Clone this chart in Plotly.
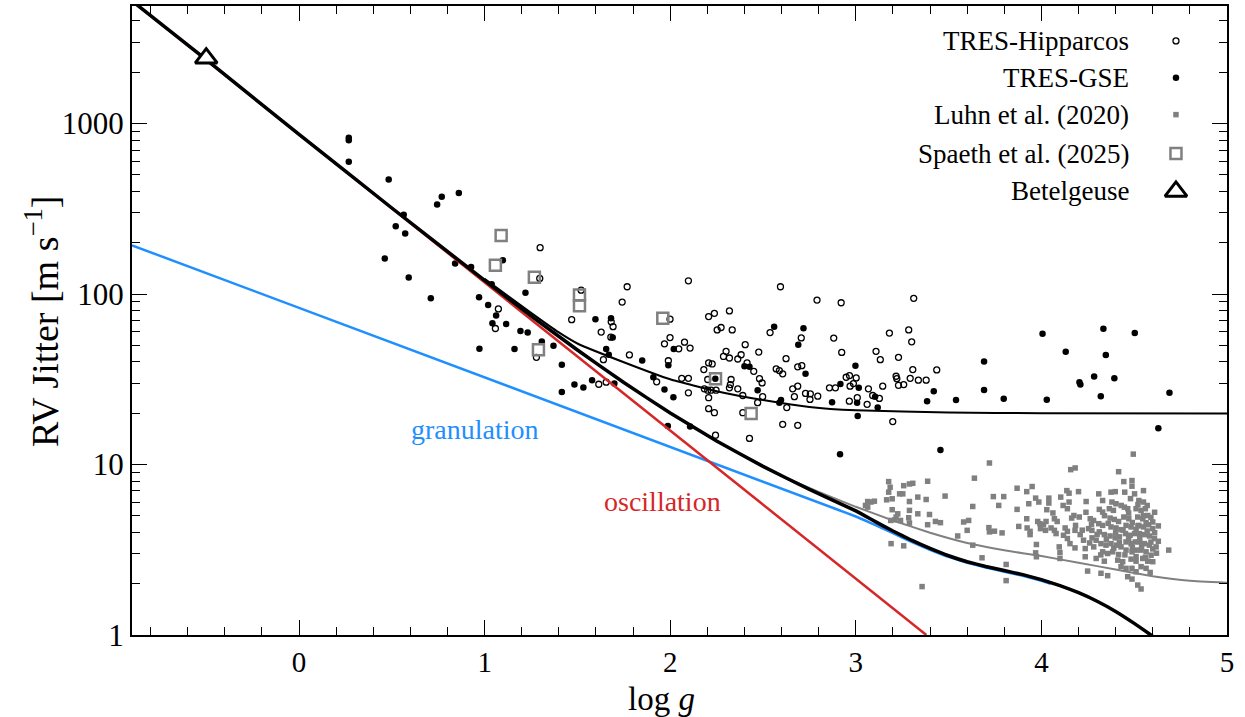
import numpy as np
import plotly.graph_objects as go

# ---------------- data (log g, log10 of RV jitter in m/s) ----------------
# TRES-Hipparcos stars
hip_logg = [1.074, 1.058, 1.299, 1.279, 1.520, 1.469, 1.615, 1.655, 1.628, 1.682,
            1.692, 1.680, 1.741, 1.768, 1.640, 1.780, 1.927, 2.098, 1.969, 1.999,
            2.077, 2.046, 2.107, 1.990, 2.062, 2.098, 2.098, 2.207, 2.238, 2.319,
            2.253, 2.274, 2.334, 2.181, 2.207, 2.226, 2.301, 2.287, 2.319, 2.364,
            2.404, 2.382, 2.414, 2.477, 2.450, 2.481, 2.495, 2.498, 2.391, 2.471,
            2.184, 2.202, 2.220, 2.247, 2.207, 2.207, 2.238, 2.202, 2.328, 2.324,
            2.319, 2.364, 2.391, 2.427, 2.244, 2.594, 2.571, 2.588, 2.606, 2.624,
            2.660, 2.669, 2.606, 2.687, 2.687, 2.538, 2.791, 2.921, 3.312, 2.881,
            2.924, 3.181, 3.285, 3.301, 3.109, 3.132, 3.230, 3.307, 3.436, 3.217,
            3.221, 3.230, 3.258, 3.293, 3.337, 3.379, 3.145, 3.068, 3.091, 3.127,
            3.061, 3.199, 2.948, 2.966, 3.002, 2.969, 2.987, 2.965, 3.008, 2.858,
            2.890, 2.687, 2.709, 2.755, 2.795, 2.706, 2.729, 2.753, 2.628, 1.999,
            1.297]
hip_logjit = [1.913, 1.798, 2.272, 1.629, 2.023, 1.850, 1.471, 1.483, 1.777, 1.837,
              1.809, 1.747, 1.953, 2.043, 1.615, 1.643, 1.485, 2.078, 1.708, 1.745,
              1.718, 1.679, 1.683, 1.609, 1.506, 1.506, 1.421, 1.868, 1.887, 1.901,
              1.790, 1.804, 1.790, 1.557, 1.596, 1.590, 1.664, 1.634, 1.625, 1.619,
              1.703, 1.644, 1.596, 1.660, 1.547, 1.504, 1.479, 1.398, 1.405, 1.363,
              1.444, 1.436, 1.436, 1.436, 1.392, 1.328, 1.304, 1.499, 1.499, 1.469,
              1.450, 1.444, 1.304, 1.153, 1.172, 2.043, 1.561, 1.551, 1.532, 1.621,
              1.444, 1.398, 1.236, 1.230, 1.573, 1.774, 1.965, 1.949, 1.975, 1.742,
              1.658, 1.771, 1.790, 1.720, 1.664, 1.615, 1.629, 1.557, 1.555, 1.518,
              1.504, 1.465, 1.469, 1.506, 1.495, 1.495, 1.460, 1.444, 1.405, 1.388,
              1.353, 1.252, 1.512, 1.522, 1.508, 1.460, 1.475, 1.372, 1.392, 1.450,
              1.450, 1.460, 1.580, 1.415, 1.401, 1.743, 1.417, 1.382, 1.334, 1.853,
              2.092]

# TRES-GSE stars
gse_logg = [0.268, 0.268, 0.268, 0.483, 0.769, 0.744, 0.861, 0.564, 0.521, 0.572,
            0.462, 0.591, 0.710, 0.841, 0.927, 1.098, 1.038, 0.970, 1.019, 1.062,
            1.042, 1.116, 0.972, 1.161, 1.193, 1.232, 1.220, 1.308, 1.371, 1.416,
            1.416, 1.484, 1.532, 1.579, 1.597, 1.681, 1.690, 1.655, 1.669, 1.699,
            1.849, 1.909, 1.969, 2.017, 1.987, 2.107, 2.243, 2.560, 2.471, 2.597,
            2.400, 2.427, 2.690, 2.019, 1.990, 2.718, 2.729, 2.588, 2.872, 2.917,
            2.998, 3.016, 3.007, 3.010, 3.118, 3.104, 2.915, 3.384, 3.420, 3.540,
            3.456, 3.691, 3.691, 3.797, 4.006, 4.029, 4.131, 4.205, 4.210, 4.284,
            4.320, 4.334, 4.347, 4.393, 4.503, 4.690, 4.630]
gse_logjit = [2.917, 2.902, 2.776, 2.672, 2.571, 2.525, 2.593, 2.465, 2.398, 2.356,
              2.208, 2.097, 1.975, 2.179, 2.159, 2.198, 2.057, 1.981, 1.936, 1.874,
              1.829, 1.825, 1.679, 1.678, 1.784, 1.774, 2.008, 1.722, 1.697, 1.586,
              1.425, 1.469, 1.452, 1.495, 1.852, 1.858, 1.745, 1.678, 1.644, 1.475,
              1.611, 1.512, 1.440, 1.395, 1.226, 1.223, 1.503, 1.809, 1.436, 1.378,
              1.576, 1.573, 1.703, 1.678, 1.582, 1.800, 1.532, 1.363, 1.366, 1.473,
              1.580, 1.450, 1.363, 1.285, 1.334, 1.398, 1.061, 1.372, 1.430, 1.378,
              1.086, 1.605, 1.438, 1.386, 1.767, 1.380, 1.662, 1.483, 1.470, 1.516,
              1.401, 1.796, 1.643, 1.506, 1.771, 1.421, 1.213]

# Luhn et al. (2020) dwarfs and subgiants
luhn_logg = [3.177, 3.185, 3.177, 3.258, 3.289, 3.307, 3.387, 3.064, 3.082, 3.100,
             3.064, 3.052, 3.166, 3.196, 3.236, 3.253, 3.289, 3.334, 3.379, 3.196,
             3.226, 3.217, 3.289, 3.285, 3.334, 3.397, 3.188, 3.211, 3.241, 3.289,
             3.387, 3.429, 3.456, 3.190, 3.258, 3.357, 3.481, 3.720, 3.639, 3.630,
             3.581, 3.608, 3.600, 3.549, 3.630, 3.680, 3.810, 3.810, 3.717, 3.720,
             3.741, 3.797, 3.770, 3.747, 3.788, 3.869, 3.921, 3.950, 3.869, 3.878,
             3.921, 3.932, 3.923, 3.939, 3.939, 3.969, 3.986, 3.973, 3.969, 3.973,
             3.980, 3.992, 4.011, 4.025, 3.995, 4.022, 4.040, 4.040, 4.062, 4.070,
             4.085, 4.052, 4.070, 4.079, 4.029, 4.104, 4.117, 4.096, 4.100, 4.100,
             4.158, 4.182, 4.137, 4.149, 4.149, 4.140, 4.128, 4.140, 4.119, 4.140,
             4.154, 4.181, 4.163, 4.175, 4.184, 4.181, 4.200, 4.204, 4.209, 4.227,
             4.236, 4.241, 4.263, 4.281, 4.254, 4.272, 4.236, 4.273, 4.295, 4.282,
             4.295, 4.249, 4.321, 4.357, 4.309, 4.312, 4.330, 4.330, 4.309, 4.330,
             4.312, 4.339, 4.321, 4.348, 4.330, 4.357, 4.339, 4.375, 4.398, 4.416,
             4.380, 4.402, 4.366, 4.388, 4.370, 4.393, 4.416, 4.375, 4.402, 4.429,
             4.370, 4.398, 4.420, 4.375, 4.405, 4.429, 4.384, 4.416, 4.411, 4.438,
             4.429, 4.456, 4.444, 4.449, 4.447, 4.465, 4.444, 4.471, 4.456, 4.483,
             4.453, 4.478, 4.502, 4.456, 4.483, 4.506, 4.456, 4.488, 4.513, 4.483,
             4.510, 4.488, 4.510, 4.465, 4.488, 4.495, 4.488, 4.488, 4.502, 4.525,
             4.550, 4.510, 4.537, 4.560, 4.519, 4.546, 4.573, 4.525, 4.550, 4.578,
             4.600, 4.528, 4.555, 4.582, 4.609, 4.528, 4.555, 4.582, 4.618, 4.537,
             4.564, 4.591, 4.546, 4.573, 4.600, 4.537, 4.564, 4.519, 4.537, 4.586,
             4.686, 4.550, 4.564, 4.600,
             4.470, 4.490, 4.510, 4.530, 4.540, 4.570, 4.590, 4.610, 4.620, 4.470,
             4.490, 4.510, 4.520, 4.570, 4.590, 4.610, 4.440, 4.420, 4.400, 4.360,
             4.340, 4.350, 4.320, 4.300, 4.270, 4.260, 4.240, 4.220, 4.450, 4.560,
             4.600, 4.630, 4.630, 4.480, 4.430, 4.390, 4.550, 4.520]
luhn_logjit = [0.900, 0.867, 0.838, 0.876, 0.886, 0.890, 0.902, 0.783, 0.780, 0.785,
               0.750, 0.760, 0.793, 0.799, 0.828, 0.828, 0.783, 0.809, 0.795, 0.735,
               0.711, 0.692, 0.731, 0.688, 0.711, 0.707, 0.672, 0.676, 0.672, 0.657,
               0.647, 0.666, 0.659, 0.536, 0.523, 0.284, 0.815, 1.009, 0.920, 0.754,
               0.663, 0.672, 0.614, 0.581, 0.527, 0.453, 0.414, 0.319, 0.630, 0.605,
               0.812, 0.812, 0.760, 0.609, 0.599, 0.861, 0.841, 0.871, 0.737, 0.637,
               0.682, 0.770, 0.628, 0.608, 0.589, 0.803, 0.780, 0.531, 0.482, 0.459,
               0.666, 0.653, 0.647, 0.666, 0.624, 0.614, 0.803, 0.774, 0.716, 0.682,
               0.666, 0.628, 0.614, 0.595, 0.735, 0.809, 0.760, 0.517, 0.484, 0.449,
               0.970, 0.980, 0.847, 0.832, 0.780, 0.741, 0.628, 0.608, 0.585, 0.566,
               0.536, 0.511, 0.686, 0.701, 0.643, 0.614, 0.841, 0.692, 0.589, 0.556,
               0.507, 0.783, 0.682, 0.672, 0.624, 0.614, 0.459, 0.570, 0.556, 0.517,
               0.449, 0.375, 0.362, 0.348, 0.828, 0.737, 0.721, 0.789, 0.653, 0.643,
               0.605, 0.589, 0.536, 0.527, 0.488, 0.478, 0.433, 0.838, 0.841, 0.958,
               0.780, 0.770, 0.741, 0.731, 0.686, 0.678, 0.666, 0.634, 0.628, 0.618,
               0.581, 0.570, 0.576, 0.536, 0.527, 0.517, 0.488, 0.472, 0.439, 0.430,
               0.401, 0.391, 0.900, 0.838, 0.750, 0.741, 0.692, 0.682, 0.643, 0.634,
               0.595, 0.585, 0.595, 0.546, 0.536, 0.546, 0.498, 0.488, 0.498, 0.445,
               0.433, 0.391, 0.371, 0.342, 0.328, 1.061, 0.906, 0.873, 0.828, 0.789,
               0.780, 0.741, 0.731, 0.741, 0.692, 0.682, 0.701, 0.643, 0.634, 0.647,
               0.663, 0.595, 0.589, 0.581, 0.566, 0.546, 0.536, 0.527, 0.517, 0.498,
               0.488, 0.468, 0.449, 0.433, 0.430, 0.401, 0.391, 0.293, 0.270, 0.367,
               0.498, 0.847, 0.659, 0.624,
               0.715, 0.660, 0.620, 0.565, 0.520, 0.610, 0.545, 0.600, 0.480, 0.565,
               0.515, 0.460, 0.765, 0.760, 0.690, 0.720, 0.615, 0.545, 0.600, 0.655,
               0.700, 0.560, 0.470, 0.590, 0.650, 0.540, 0.720, 0.615, 0.470, 0.455,
               0.505, 0.550, 0.640, 0.800, 0.760, 0.510, 0.700, 0.640]

# Spaeth et al. (2025)
spaeth_logg = [1.089, 1.058, 1.268, 1.511, 1.511, 1.290, 1.960, 2.244, 2.436]
spaeth_logjit = [2.344, 2.169, 2.099, 1.994, 1.932, 1.673, 1.858, 1.503, 1.300]

# Betelgeuse
betel_logg = [-0.50]
betel_logjit = [3.384]

# ---------------- model curves ----------------
# oscillation (straight power law)
osc_logg = [-0.9, 3.38]
osc_logjit = [3.72, 0.0]

# granulation
gran_logg = [-0.9, 2.9, 3.0, 3.1, 3.2, 3.3, 3.4, 3.5, 3.6, 3.7, 3.8, 3.9, 4.0, 4.05]
gran_logjit = [2.286, 0.736, 0.695, 0.648, 0.597, 0.546, 0.500, 0.458, 0.424,
               0.396, 0.371, 0.347, 0.318, 0.300]

# total (oscillation + granulation)
tot_logg = [-0.9, -0.5, 0.0, 0.5, 1.0, 1.25, 1.5, 1.75, 2.0, 2.25, 2.5, 2.75,
            3.0, 3.1, 3.2, 3.3, 3.4, 3.5, 3.6, 3.7, 3.8, 3.9, 4.0, 4.1, 4.2,
            4.3, 4.4, 4.5, 4.59, 4.7]
tot_logjit = [3.72, 3.375, 2.937, 2.505, 2.080, 1.872, 1.672, 1.481, 1.302, 1.138,
              0.989, 0.854, 0.728, 0.668, 0.610, 0.556, 0.508, 0.465, 0.430, 0.402,
              0.378, 0.354, 0.325, 0.290, 0.248, 0.198, 0.138, 0.068, 0.0, -0.09]

# total with 20 m/s floor
floor_logg = [1.0, 1.25, 1.4, 1.5, 1.75, 2.0, 2.25, 2.5, 2.75, 3.0, 3.5, 4.0, 5.0]
floor_logjit = [2.09, 1.89, 1.775, 1.71, 1.60, 1.50, 1.43, 1.378, 1.338, 1.318,
                1.305, 1.301, 1.300]

# dwarf-branch model
dwarf_logg = [2.4, 2.6, 2.8, 3.0, 3.2, 3.4, 3.6, 3.8, 4.0, 4.2, 4.4, 4.6, 4.8, 5.0]
dwarf_logjit = [1.05, 0.935, 0.84, 0.752, 0.672, 0.600, 0.540, 0.497, 0.463,
                0.424, 0.384, 0.345, 0.318, 0.307]

legend_labels = ["TRES-Hipparcos", "TRES-GSE", "Luhn et al. (2020)",
                 "Spaeth et al. (2025)", "Betelgeuse"]

# ---------------- styling ----------------
FONT = "Liberation Serif"
BLUE = "#1f8fff"
RED = "#d62728"
GRAY = "#808080"


def lin(v):
    return np.power(10.0, np.asarray(v, dtype=float))


fig = go.Figure()

# scatter samples
fig.add_trace(go.Scatter(x=luhn_logg, y=lin(luhn_logjit), mode="markers",
                         marker=dict(symbol="square", size=5.5, color=GRAY,
                                     line=dict(width=0)),
                         showlegend=False))
fig.add_trace(go.Scatter(x=hip_logg, y=lin(hip_logjit), mode="markers",
                         marker=dict(symbol="circle-open", size=6, color="black",
                                     line=dict(width=1.3, color="black")),
                         showlegend=False))
fig.add_trace(go.Scatter(x=gse_logg, y=lin(gse_logjit), mode="markers",
                         marker=dict(symbol="circle", size=6.5, color="black",
                                     line=dict(width=0)),
                         showlegend=False))
fig.add_trace(go.Scatter(x=spaeth_logg, y=lin(spaeth_logjit), mode="markers",
                         marker=dict(symbol="square-open", size=11, color=GRAY,
                                     line=dict(width=2.5, color=GRAY)),
                         showlegend=False))

# model curves
fig.add_trace(go.Scatter(x=gran_logg, y=lin(gran_logjit), mode="lines",
                         line=dict(color=BLUE, width=2.5, shape="spline",
                                   smoothing=0.3),
                         showlegend=False))
fig.add_trace(go.Scatter(x=osc_logg, y=lin(osc_logjit), mode="lines",
                         line=dict(color=RED, width=2.5), showlegend=False))
fig.add_trace(go.Scatter(x=dwarf_logg, y=lin(dwarf_logjit), mode="lines",
                         line=dict(color=GRAY, width=2, shape="spline",
                                   smoothing=0.3),
                         showlegend=False))
fig.add_trace(go.Scatter(x=floor_logg, y=lin(floor_logjit), mode="lines",
                         line=dict(color="black", width=2, shape="spline",
                                   smoothing=0.4),
                         showlegend=False))
fig.add_trace(go.Scatter(x=tot_logg, y=lin(tot_logjit), mode="lines",
                         line=dict(color="black", width=3.5, shape="spline",
                                   smoothing=0.3),
                         showlegend=False))

fig.add_trace(go.Scatter(x=betel_logg, y=lin(betel_logjit), mode="markers",
                         marker=dict(symbol="triangle-up", size=19, color="white",
                                     line=dict(width=3, color="black")),
                         showlegend=False))

# ---------------- key (text right-aligned, symbol on the right) ----------------
key_y = [0.9445, 0.8859, 0.8273, 0.7655, 0.7052]
key_x = 0.9534
key_styles = [
    dict(symbol="circle-open", size=6, color="black",
         line=dict(width=1.3, color="black")),
    dict(symbol="circle", size=6.5, color="black", line=dict(width=0)),
    dict(symbol="square", size=5.5, color=GRAY, line=dict(width=0)),
    dict(symbol="square-open", size=11, color=GRAY,
         line=dict(width=2.5, color=GRAY)),
    dict(symbol="triangle-up", size=19, color="white",
         line=dict(width=3, color="black")),
]
for yy, st in zip(key_y, key_styles):
    fig.add_trace(go.Scatter(x=[key_x], y=[yy], xaxis="x2", yaxis="y2",
                             mode="markers", marker=st, showlegend=False,
                             hoverinfo="skip"))

annotations = []
for yy, lab in zip(key_y, legend_labels):
    annotations.append(dict(x=0.9123, y=yy, xref="paper", yref="paper",
                            text=lab, showarrow=False, xanchor="right",
                            yanchor="middle",
                            font=dict(family=FONT, size=27, color="black")))

# curve labels (y given in log10 units on the log axis)
annotations.append(dict(x=0.95, y=1.207, xref="x", yref="y", text="granulation",
                        showarrow=False, xanchor="center", yanchor="middle",
                        font=dict(family=FONT, size=28, color=BLUE)))
annotations.append(dict(x=1.958, y=0.781, xref="x", yref="y", text="oscillation",
                        showarrow=False, xanchor="center", yanchor="middle",
                        font=dict(family=FONT, size=28, color=RED)))

# axis titles
annotations.append(dict(x=0.484, y=-0.1014, xref="paper", yref="paper",
                        text="log <i>g</i>", showarrow=False,
                        xanchor="center", yanchor="middle",
                        font=dict(family=FONT, size=33, color="black")))
annotations.append(dict(x=-0.0822, y=0.499, xref="paper", yref="paper",
                        text="RV Jitter [m s<sup>−1</sup>]", showarrow=False,
                        textangle=-90, xanchor="center", yanchor="middle",
                        font=dict(family=FONT, size=38, color="black")))

y_minor = [v * 10 ** k for k in range(4) for v in range(2, 10)]
y_minor = [v for v in y_minor if v < 4900]

fig.update_layout(
    width=1245, height=717,
    margin=dict(l=132, r=18, t=4, b=82),
    paper_bgcolor="white", plot_bgcolor="white",
    showlegend=False,
    font=dict(family=FONT, color="black"),
    annotations=annotations,
    xaxis=dict(range=[-0.9, 5], tickvals=[0, 1, 2, 3, 4, 5],
               ticktext=["0", "1", "2", "3", "4", "5"],
               ticks="inside", ticklen=15, tickwidth=1.3, tickcolor="black",
               mirror="allticks", showline=True, linewidth=2, linecolor="black",
               showgrid=False, zeroline=False,
               tickfont=dict(family=FONT, size=29, color="black"),
               minor=dict(ticks="inside", ticklen=8, tickwidth=1,
                          tickcolor="black", dtick=0.2, tick0=0,
                          showgrid=False)),
    yaxis=dict(type="log", range=[0, 3.69], tickvals=[1, 10, 100, 1000],
               ticktext=["1", "10", "100", "1000"],
               ticks="inside", ticklen=15, tickwidth=1.3, tickcolor="black",
               mirror="allticks", showline=True, linewidth=2, linecolor="black",
               showgrid=False, zeroline=False,
               tickfont=dict(family=FONT, size=31, color="black"),
               minor=dict(ticks="inside", ticklen=8, tickwidth=1,
                          tickcolor="black", tickvals=y_minor,
                          showgrid=False)),
    xaxis2=dict(overlaying="x", anchor="y2", range=[0, 1], visible=False,
                fixedrange=True),
    yaxis2=dict(overlaying="y", anchor="x2", range=[0, 1], visible=False,
                fixedrange=True),
)

fig.write_html("out.html")
